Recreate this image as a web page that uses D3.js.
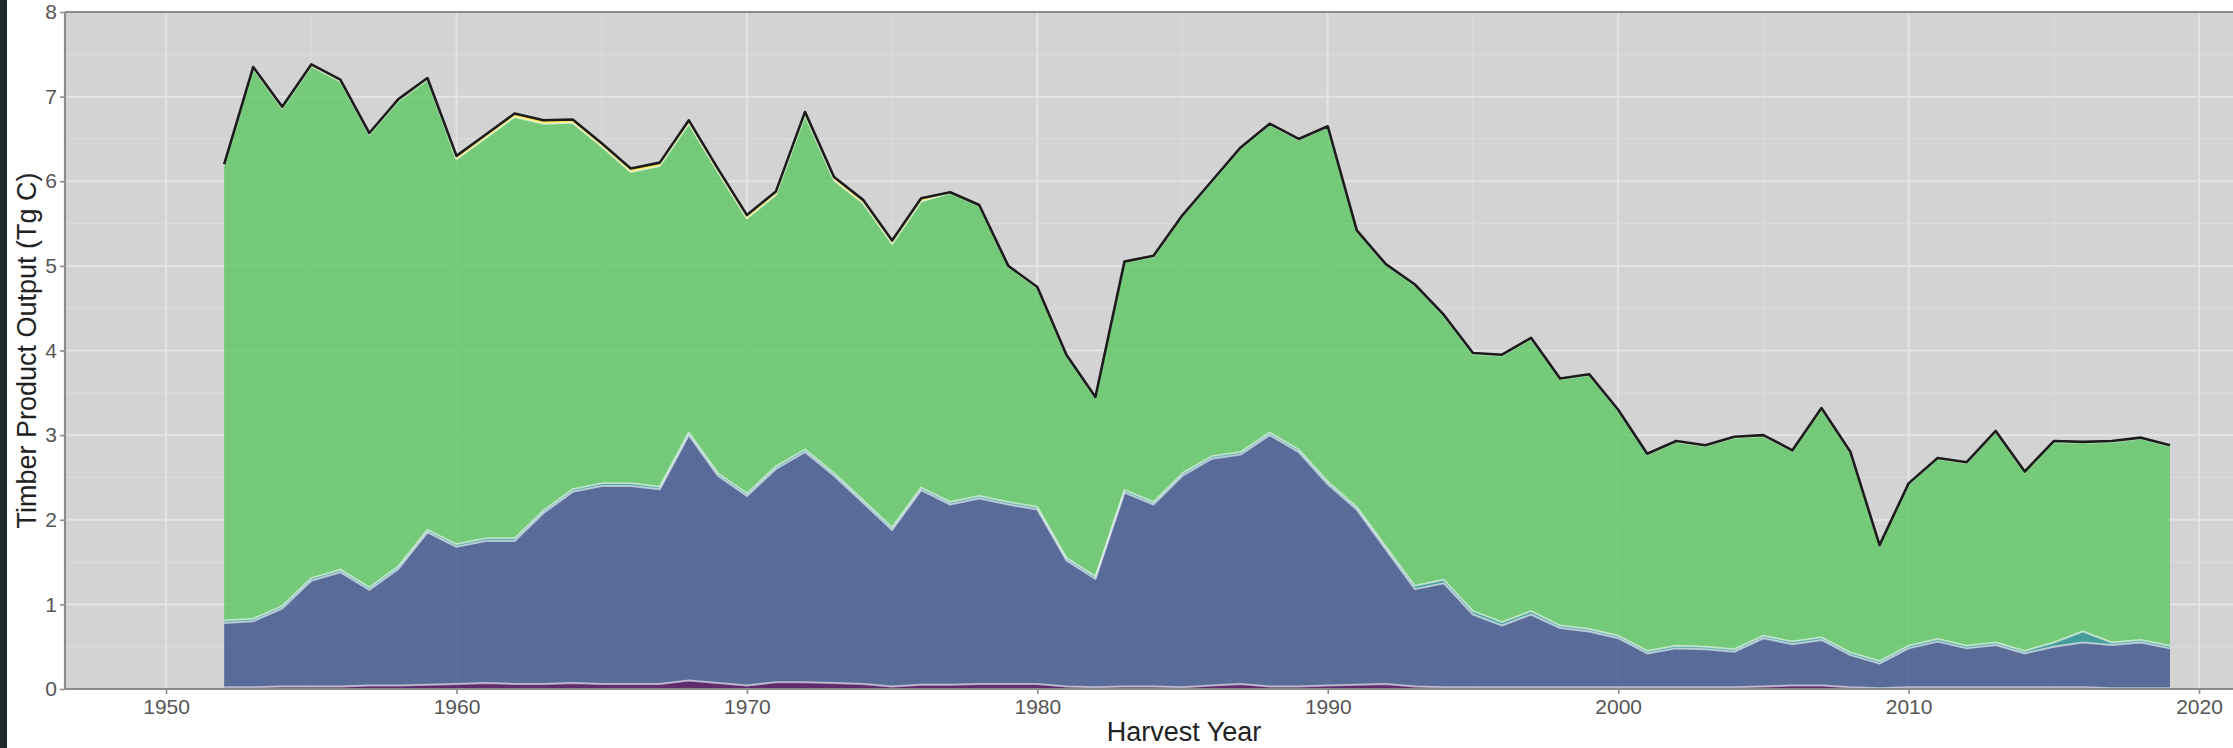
<!DOCTYPE html>
<html>
<head>
<meta charset="utf-8">
<script src="https://cdn.jsdelivr.net/npm/d3@7"></script>
<style>
  html, body { margin: 0; padding: 0; background: #ffffff; }
  svg { display: block; }
  text { font-family: "Liberation Sans", Arial, Helvetica, sans-serif; }
</style>
</head>
<body>
<svg id="chart" width="2233" height="748"></svg>
<script>
// ---- data ----
const years = [1952,1953,1954,1955,1956,1957,1958,1959,
  1960,1961,1962,1963,1964,1965,1966,1967,1968,1969,
  1970,1971,1972,1973,1974,1975,1976,1977,1978,1979,
  1980,1981,1982,1983,1984,1985,1986,1987,1988,1989,
  1990,1991,1992,1993,1994,1995,1996,1997,1998,1999,
  2000,2001,2002,2003,2004,2005,2006,2007,2008,2009,
  2010,2011,2012,2013,2014,2015,2016,2017,2018,2019];

const purple = [0.02,0.02,0.03,0.03,0.03,0.04,0.04,0.05,
  0.06,0.07,0.06,0.06,0.07,0.06,0.06,0.06,0.10,0.07,
  0.04,0.08,0.08,0.07,0.06,0.03,0.05,0.05,0.06,0.06,
  0.06,0.03,0.02,0.03,0.03,0.02,0.04,0.06,0.03,0.03,
  0.04,0.05,0.06,0.03,0.02,0.02,0.02,0.02,0.02,0.02,
  0.02,0.02,0.02,0.02,0.02,0.03,0.04,0.04,0.02,0.01,
  0.02,0.02,0.02,0.02,0.02,0.02,0.02,0.01,0.01,0.01];

const blue = [0.76,0.78,0.92,1.25,1.35,1.13,1.38,1.80,
  1.62,1.68,1.69,2.02,2.26,2.34,2.34,2.30,2.90,2.45,
  2.24,2.52,2.72,2.45,2.14,1.85,2.30,2.13,2.19,2.12,
  2.06,1.49,1.28,2.29,2.15,2.50,2.68,2.71,2.97,2.77,
  2.38,2.07,1.59,1.15,1.23,0.86,0.73,0.86,0.70,0.66,
  0.58,0.40,0.46,0.45,0.42,0.57,0.49,0.54,0.38,0.29,
  0.46,0.54,0.46,0.50,0.40,0.48,0.53,0.51,0.54,0.47];

const teal = [0.03,0.03,0.03,0.03,0.03,0.03,0.03,0.03,
  0.03,0.03,0.03,0.03,0.03,0.03,0.03,0.03,0.03,0.03,
  0.03,0.03,0.03,0.03,0.03,0.03,0.03,0.03,0.03,0.03,
  0.03,0.03,0.03,0.03,0.03,0.03,0.03,0.03,0.03,0.03,
  0.03,0.03,0.03,0.04,0.04,0.04,0.04,0.04,0.03,0.03,
  0.03,0.03,0.03,0.03,0.03,0.03,0.03,0.03,0.03,0.03,
  0.03,0.03,0.03,0.03,0.03,0.05,0.13,0.03,0.03,0.03];

const green = [5.37,6.50,5.88,6.05,5.77,5.35,5.50,5.32,
  4.55,4.73,4.98,4.57,4.33,3.98,3.68,3.79,3.65,3.56,
  3.25,3.21,3.95,3.46,3.51,3.35,3.38,3.65,3.43,2.78,
  2.59,2.39,2.11,2.69,2.90,3.04,3.24,3.59,3.64,3.66,
  4.19,3.26,3.33,3.55,3.12,3.04,3.15,3.22,2.91,3.00,
  2.66,2.32,2.41,2.37,2.50,2.36,2.25,2.70,2.36,1.36,
  1.91,2.13,2.16,2.49,2.11,2.37,2.23,2.37,2.38,2.36];

const yellow = [0.02,0.02,0.02,0.02,0.02,0.02,0.02,0.02,
  0.04,0.04,0.04,0.04,0.04,0.04,0.04,0.04,0.04,0.04,
  0.04,0.04,0.04,0.04,0.04,0.04,0.04,0.01,0.01,0.01,
  0.01,0.01,0.01,0.01,0.01,0.01,0.01,0.01,0.01,0.01,
  0.01,0.01,0.01,0.01,0.01,0.01,0.01,0.01,0.01,0.01,
  0.01,0.01,0.01,0.01,0.01,0.01,0.01,0.01,0.01,0.01,
  0.01,0.01,0.01,0.01,0.01,0.01,0.01,0.01,0.01,0.01];

const seriesKeys = ["purple", "blue", "teal", "green", "yellow"];
const xTickValues = [1950, 1960, 1970, 1980, 1990, 2000, 2010, 2020];
const xMinorValues = [1945, 1955, 1965, 1975, 1985, 1995, 2005, 2015, 2025];
const yTickValues = [0, 1, 2, 3, 4, 5, 6, 7, 8];
const yMinorValues = [0.5, 1.5, 2.5, 3.5, 4.5, 5.5, 6.5, 7.5];
const xTitle = "Harvest Year";
const yTitle = "Timber Product Output (Tg C)";

// ---- build table ----
const table = years.map((yr, i) => ({
  year: yr, purple: purple[i], blue: blue[i], teal: teal[i], green: green[i], yellow: yellow[i]
}));

// ---- layout ----
const W = 2233, H = 748;
const panel = { left: 65, right: 2233, top: 12, bottom: 689 };
const colors = { purple: "#440154", blue: "#3b528b", teal: "#21908c", green: "#5dc863", yellow: "#fde725" };

const svg = d3.select("#chart");
svg.append("rect").attr("width", W).attr("height", H).attr("fill", "#ffffff");

const x = d3.scaleLinear().domain([1946.52, 2021.17]).range([panel.left, panel.right]);
const y = d3.scaleLinear().domain([0, 8]).range([panel.bottom, panel.top]);

// panel background
svg.append("rect")
  .attr("x", panel.left).attr("y", panel.top)
  .attr("width", panel.right - panel.left).attr("height", panel.bottom - panel.top)
  .attr("fill", "#d3d3d3");

// grid
const grid = svg.append("g");
grid.selectAll("line.ym").data(yMinorValues).join("line")
  .attr("x1", panel.left).attr("x2", panel.right)
  .attr("y1", d => y(d)).attr("y2", d => y(d))
  .attr("stroke", "#dbdbdb").attr("stroke-width", 1.2);
grid.selectAll("line.xm").data(xMinorValues.filter(v => x(v) > panel.left && x(v) < panel.right)).join("line")
  .attr("y1", panel.top).attr("y2", panel.bottom)
  .attr("x1", d => x(d)).attr("x2", d => x(d))
  .attr("stroke", "#dbdbdb").attr("stroke-width", 1.2);
grid.selectAll("line.yM").data(yTickValues).join("line")
  .attr("x1", panel.left).attr("x2", panel.right)
  .attr("y1", d => y(d)).attr("y2", d => y(d))
  .attr("stroke", "#e4e4e4").attr("stroke-width", 2);
grid.selectAll("line.xM").data(xTickValues).join("line")
  .attr("y1", panel.top).attr("y2", panel.bottom)
  .attr("x1", d => x(d)).attr("x2", d => x(d))
  .attr("stroke", "#e4e4e4").attr("stroke-width", 2);

// stack
const stack = d3.stack().keys(seriesKeys);
const layers = stack(table);

const area = d3.area()
  .x(d => x(d.data.year))
  .y0(d => y(d[0]))
  .y1(d => y(d[1]));
const topLine = d3.line()
  .x(d => x(d.data.year))
  .y(d => y(d[1]));

const g = svg.append("g");
g.selectAll("path.area").data(layers).join("path")
  .attr("class", "area")
  .attr("d", area)
  .attr("fill", d => colors[d.key])
  .attr("fill-opacity", 0.8);

g.selectAll("path.outline").data(layers.slice(0, 4)).join("path")
  .attr("class", "outline")
  .attr("d", topLine)
  .attr("fill", "none")
  .attr("stroke", "#ffffff")
  .attr("stroke-opacity", 0.55)
  .attr("stroke-width", 2)
  .attr("stroke-linejoin", "round");

// total outline
g.append("path")
  .datum(layers[layers.length - 1])
  .attr("d", topLine)
  .attr("fill", "none")
  .attr("stroke", "#1c1c1c")
  .attr("stroke-width", 2.6)
  .attr("stroke-linejoin", "round");

// axes
const axisColor = "#8c8c8c";
const xAxis = svg.append("g")
  .attr("transform", `translate(0,${panel.bottom})`)
  .call(d3.axisBottom(x).tickValues(xTickValues).tickFormat(d3.format("d")).tickSize(5).tickPadding(5));
const yAxis = svg.append("g")
  .attr("transform", `translate(${panel.left},0)`)
  .call(d3.axisLeft(y).tickValues(yTickValues).tickFormat(d3.format("d")).tickSize(5).tickPadding(3));

[xAxis, yAxis].forEach(a => {
  a.select(".domain").attr("stroke", axisColor).attr("stroke-width", 2.2);
  a.selectAll(".tick line").attr("stroke", axisColor).attr("stroke-width", 1.6);
  a.selectAll(".tick text")
    .attr("fill", "#555555")
    .style("font-size", "21px")
    .style("font-family", "'Liberation Sans', Arial, sans-serif");
});
yAxis.select(".domain").attr("d", `M0,${panel.top}V${panel.bottom}`);
xAxis.select(".domain").attr("d", `M${panel.left},0H${panel.right}`);

// top border line
svg.append("line")
  .attr("x1", panel.left).attr("x2", panel.right)
  .attr("y1", panel.top).attr("y2", panel.top)
  .attr("stroke", axisColor).attr("stroke-width", 2.2);

// axis titles
svg.append("text")
  .attr("x", 1184).attr("y", 741)
  .attr("text-anchor", "middle")
  .attr("fill", "#222222")
  .style("font-size", "27px")
  .text(xTitle);

svg.append("text")
  .attr("transform", `translate(36,${(panel.top + panel.bottom) / 2}) rotate(-90)`)
  .attr("text-anchor", "middle")
  .attr("fill", "#222222")
  .style("font-size", "27px")
  .text(yTitle);

// dark window edge at left
svg.append("rect").attr("x", 0).attr("y", 0).attr("width", 7).attr("height", H).attr("fill", "#1f2a2d");
</script>
</body>
</html>
